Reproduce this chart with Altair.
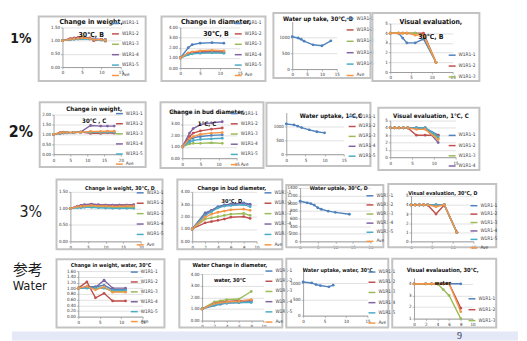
import altair as alt
import pandas as pd

FONT = "Liberation Sans Narrow, DejaVu Sans Condensed, sans-serif"
SERIES = ["W1R1-1", "W1R1-2", "W1R1-3", "W1R1-4", "W1R1-5", "Ave"]
PALETTE = ["#4F81BD", "#C0504D", "#9BBB59", "#8064A2", "#4BACC6", "#F79646"]
TITLE_SCALE = 0.82
ROW_TRIM = 1.5

# ---------------- data ----------------
# Row 1 : 1%
r1_weight_days = [0, 2, 3, 4, 5, 7, 8, 10, 11]
r1_weight = {
    "W1R1-1": [1.00, 1.04, 1.06, 1.07, 1.08, 1.07, 1.05, 1.03, 1.04],
    "W1R1-2": [1.00, 1.08, 1.10, 1.12, 1.13, 1.10, 1.00, 1.05, 0.98],
    "W1R1-3": [1.00, 1.05, 1.07, 1.08, 1.10, 1.08, 1.05, 1.03, 1.02],
    "W1R1-4": [1.00, 1.06, 1.08, 1.09, 1.10, 1.09, 1.07, 1.05, 1.04],
    "W1R1-5": [1.00, 1.03, 1.05, 1.06, 1.07, 1.06, 1.04, 1.02, 1.01],
    "Ave":    [1.00, 1.05, 1.07, 1.08, 1.10, 1.08, 1.04, 1.04, 1.02],
}
r1_diam_days = [0, 2, 3, 5, 8, 11]
r1_diam = {
    "W1R1-1": [1.0, 2.0, 2.3, 2.45, 2.5, 2.45],
    "W1R1-2": [1.0, 1.45, 1.55, 1.6, 1.65, 1.55],
    "W1R1-3": [1.0, 1.35, 1.45, 1.5, 1.55, 1.5],
    "W1R1-4": [1.0, 1.4, 1.5, 1.55, 1.6, 1.6],
    "W1R1-5": [1.0, 1.3, 1.4, 1.45, 1.5, 1.45],
    "Ave":    [1.0, 1.5, 1.6, 1.7, 1.75, 1.7],
}
r1_uptake_days = [0, 2, 3, 4, 7, 10, 13]
r1_uptake = {"W1R1-1": [1020, 980, 940, 880, 765, 735, 890]}
r1_visual_days = [0, 2, 3, 4, 6, 8, 11]
r1_visual = {
    "W1R1-1": [4, 4, 3.5, 3, 3, 3.4, 1],
    "W1R1-2": [4, 4, 4, 4, 4, 4, 1],
    "W1R1-3": [4, 4, 4, 4, 4, 3.8, 1],
    "Ave":    [4, 4, 4, 4, 3.8, 3.8, 1],
}

# Row 2 : 2%
r2_weight_days = [0, 2, 3, 4, 6, 8, 11, 14, 16, 18]
r2_weight = {
    "W1R1-1": [1.00, 1.05, 1.07, 1.08, 1.10, 1.10, 1.12, 1.12, 1.13, 1.14],
    "W1R1-2": [1.00, 1.10, 1.12, 1.10, 1.08, 1.12, 1.05, 1.05, 1.08, 1.06],
    "W1R1-3": [1.00, 1.08, 1.10, 1.10, 1.10, 1.12, 1.10, 1.10, 1.12, 1.12],
    "W1R1-4": [1.00, 1.05, 1.08, 1.10, 1.10, 1.12, 1.45, 1.42, 1.42, 1.42],
    "W1R1-5": [1.00, 1.06, 1.08, 1.08, 1.09, 1.10, 1.10, 1.10, 1.10, 1.10],
    "Ave":    [1.00, 1.07, 1.09, 1.09, 1.10, 1.11, 1.15, 1.15, 1.16, 1.16],
}
r2_diam_days = [0, 2, 3, 5, 8, 11]
r2_diam = {
    "W1R1-1": [1.0, 1.6, 1.8, 1.9, 2.0, 2.05],
    "W1R1-2": [1.0, 1.9, 2.2, 2.4, 2.55, 2.65],
    "W1R1-3": [1.0, 1.25, 1.3, 1.3, 1.35, 1.3],
    "W1R1-4": [1.0, 2.2, 2.6, 2.95, 3.1, 3.2],
    "W1R1-5": [1.0, 1.4, 1.55, 1.65, 1.7, 1.75],
    "Ave":    [1.0, 1.7, 1.9, 2.1, 2.2, 2.25],
}
r2_uptake_days = [0, 2, 3, 4, 6, 8, 10]
r2_uptake = {"W1R1-1": [1090, 1060, 1010, 960, 880, 810, 770]}
r2_visual_days = [0, 1, 2, 3, 4, 6, 8, 11]
r2_visual = {
    "W1R1-1": [4, 4, 4, 4, 4, 4, 4, 3],
    "W1R1-2": [4, 4, 4, 4, 4, 3, 3, 3],
    "W1R1-3": [4, 4, 4, 4, 4, 4, 4, 2.6],
    "W1R1-4": [4, 4, 4, 4, 4, 4, 4, 2],
    "W1R1-5": [4, 4, 4, 4, 4, 4, 4, 2.8],
    "Ave":    [4, 4, 4, 4, 4, 3.8, 3.8, 2.4],
}

# Row 3 : 3%
r3_weight_days = [0, 2, 3, 4, 6, 8, 10, 12, 14, 16, 18]
r3_weight = {
    "W1R1-1": [1.00, 1.04, 1.06, 1.07, 1.09, 1.08, 1.08, 1.07, 1.08, 1.08, 1.08],
    "W1R1-2": [1.00, 1.06, 1.08, 1.10, 1.12, 1.10, 1.10, 1.09, 1.10, 1.10, 1.11],
    "W1R1-3": [1.00, 1.03, 1.04, 1.05, 1.05, 1.04, 1.04, 1.03, 1.03, 1.03, 1.03],
    "W1R1-4": [1.00, 1.07, 1.09, 1.11, 1.13, 1.11, 1.10, 1.10, 1.10, 1.10, 1.10],
    "W1R1-5": [1.00, 1.02, 1.02, 1.03, 1.03, 1.02, 1.01, 1.00, 1.00, 1.00, 1.00],
    "Ave":    [1.00, 1.05, 1.06, 1.07, 1.09, 1.07, 1.07, 1.06, 1.06, 1.07, 1.07],
}
r3_diam_days = [0, 2, 3, 4, 5, 6, 8, 9]
r3_diam = {
    "W1R1-1": [1.0, 2.3, 2.5, 2.8, 2.95, 3.0, 3.1, 3.0],
    "W1R1-2": [1.0, 1.5, 1.6, 1.7, 1.8, 1.95, 2.0, 1.85],
    "W1R1-3": [1.0, 1.8, 1.9, 2.0, 2.1, 2.2, 2.25, 2.1],
    "W1R1-4": [1.0, 2.2, 2.5, 2.75, 2.9, 3.0, 3.05, 2.95],
    "W1R1-5": [1.0, 2.1, 2.4, 2.7, 2.85, 2.9, 2.95, 2.8],
    "Ave":    [1.0, 1.95, 2.2, 2.35, 2.45, 2.55, 2.6, 2.5],
}
r3_uptake_days = [0, 2, 3, 4, 5, 6, 8, 10, 14]
r3_uptake = {"W1R1-1": [1050, 1010, 990, 950, 880, 840, 790, 760, 710]}
r3_visual_days = [0, 1, 2, 3, 4, 6, 8, 11]
r3_visual = {
    "W1R1-1": [4, 4, 4, 4, 4, 4, 4, 1],
    "W1R1-2": [4, 4, 4, 4, 4, 3, 4, 1],
    "W1R1-3": [4, 4, 4, 4, 4, 4, 4, 1],
    "W1R1-4": [4, 4, 4, 4, 4, 4, 4, 1],
    "W1R1-5": [4, 4, 4, 4, 4, 4, 4, 1],
    "Ave":    [4, 4, 4, 4, 4, 3.8, 4, 1],
}

# Row 4 : water (reference)
r4_weight_days = [0, 2, 4, 6, 8, 11]
r4_weight = {
    "W1R1-1": [1.00, 1.05, 1.05, 1.10, 0.95, 0.95],
    "W1R1-2": [1.00, 1.22, 0.66, 0.82, 0.55, 0.55],
    "W1R1-3": [1.00, 1.02, 0.98, 1.02, 0.88, 0.88],
    "W1R1-4": [1.00, 1.02, 1.02, 1.28, 1.00, 1.00],
    "W1R1-5": [1.00, 1.00, 1.00, 1.00, 0.92, 0.92],
    "Ave":    [1.00, 1.06, 0.94, 1.04, 0.86, 0.86],
}
r4_diam_days = [0, 2, 3, 4, 6, 8]
r4_diam = {
    "W1R1-1": [1.0, 1.3, 1.4, 1.5, 1.55, 1.6],
    "W1R1-2": [1.0, 1.5, 1.6, 1.65, 1.7, 1.75],
    "W1R1-3": [1.0, 1.6, 1.7, 1.8, 1.85, 2.5],
    "W1R1-4": [1.0, 1.45, 1.55, 1.6, 1.65, 1.7],
    "W1R1-5": [1.0, 1.35, 1.45, 1.5, 1.55, 1.55],
    "Ave":    [1.0, 1.45, 1.55, 1.6, 1.65, 1.8],
}
r4_uptake_days = [0, 2, 3, 4, 6, 7]
r4_uptake = {"W1R1-1": [1040, 1010, 960, 930, 890, 940]}
r4_visual_days = [0, 2, 3, 4, 5, 6, 8]
r4_visual = {
    "W1R1-1": [4, 4, 4, 4, 4, 4, 4],
    "W1R1-2": [4, 4, 4, 4, 4, 4, 1.9],
    "W1R1-3": [4, 4, 4, 4, 3.5, 3.0, 1.0],
    "Ave":    [4, 4, 4, 4, 4, 4, 1.6],
}

PAGE_NUMBER = "9"

# ---------------- layout (page pixel positions) ----------------
T15 = [0, 5, 10, 15]
T20 = [0, 5, 10, 15, 20]
T10 = [0, 2, 4, 6, 8, 10]
ROWS = [
    dict(top=8, bottom=98, panels=[
        dict(days=r1_weight_days, data=r1_weight, plot=(59, 25, 118, 65), frame=(35, 13, 143, 80),
             title=["Change in weight,", "30℃, B"], tx=88, ty=20, lh=13, fs=8.5, leg=(108, 20, 9.5),
             xmax=15, xt=T15, ydom=[0, 1.5], yt=[0, 0.5, 1, 1.5], yf=".2f"),
        dict(days=r1_diam_days, data=r1_diam, plot=(178, 25, 238, 66), frame=(159, 13, 264, 80),
             title=["Change in diameter,", "30℃, B"], tx=214, ty=20, lh=12, fs=8.5, leg=(232, 20, 9.5),
             xmax=15, xt=T15, ydom=[0, 4], yt=[0, 1, 2, 3, 4], yf=".2f"),
        dict(days=r1_uptake_days, data=r1_uptake, plot=(291, 19, 336, 67), frame=(272, 8, 370, 77),
             title=["Water up take, 30℃, B"], tx=317, ty=17, lh=10, fs=7.5, leg=(345, 15, 10.5),
             names=SERIES, xmax=15, xt=T15, ydom=[0, 1500], yt=[0, 500, 1000], yf="d"),
        dict(days=r1_visual_days, data=r1_visual, plot=(390, 21, 453, 70), frame=(372, 8, 480, 80),
             title=["Visual evaluation,", "30℃,  B"], tx=431, ty=20, lh=14.5, fs=8.5, leg=(448, 52, 10),
             legvals=SERIES[:3], xmax=15, xt=T15, ydom=[0, 5], yt=[0, 1, 2, 3, 4, 5], yf="d"),
    ], labels=[("1%", 17, 37, 14, "bold", FONT)]),
    dict(top=98, bottom=176, panels=[
        dict(days=r2_weight_days, data=r2_weight, plot=(50, 113, 118, 153), frame=(36, 98, 143, 167),
             title=["Change in weight,", "30℃ , C"], tx=91, ty=108, lh=12, fs=7.5, leg=(112, 111, 9.2),
             xmax=20, xt=T20, ydom=[0, 2], yt=[0, 0.5, 1, 1.5, 2], yf=".2f"),
        dict(days=r2_diam_days, data=r2_diam, plot=(180, 111, 235, 157), frame=(158, 98, 262, 168),
             title=["Change in bud diameter,", "1℃, C"], tx=205, ty=111, lh=12, fs=7.5, leg=(228, 111, 9.3),
             xmax=15, xt=T15, ydom=[0, 4], yt=[0, 1, 2, 3, 4], yf=".2f"),
        dict(days=r2_uptake_days, data=r2_uptake, plot=(285, 111, 343, 153), frame=(265, 100, 370, 166),
             title=["Water uptake, 1℃,C"], tx=330, ty=115, lh=10, fs=7.5, leg=(347, 114, 9),
             names=SERIES[:5], xmax=15, xt=T15, ydom=[0, 1500], yt=[0, 500, 1000], yf="d"),
        dict(days=r2_visual_days, data=r2_visual, plot=(390, 119, 456, 156), frame=(378, 105, 480, 170),
             title=["Visual evaluation, 1℃, C"], tx=431, ty=115, lh=10, fs=7.5, leg=(448, 133, 9.3),
             legvals=SERIES[:4], xmax=15, xt=T15, ydom=[0, 5], yt=[0, 1, 2, 3, 4, 5], yf="d"),
    ], labels=[("2%", 17, 131, 16, "bold", FONT)]),
    dict(top=176, bottom=256, panels=[
        dict(days=r3_weight_days, data=r3_weight, plot=(67, 191, 138, 241), frame=(53, 177, 160, 250),
             title=["Change in weight, 30℃, D"], tx=117, ty=188, lh=10, fs=6.5, leg=(133, 191, 9.5),
             xmax=20, xt=T20, ydom=[0, 1.5], yt=[0, 0.5, 1, 1.5], yf=".2f"),
        dict(days=r3_diam_days, data=r3_diam, plot=(190, 191, 255, 241), frame=(175, 177, 281, 250),
             title=["Change in bud diameter,", "30℃,  D"], tx=230, ty=188, lh=14, fs=6.8, leg=(262, 191, 9.5),
             xmax=10, xt=T10, ydom=[0, 4], yt=[0, 1, 2, 3, 4], yf=".2f"),
        dict(days=r3_uptake_days, data=r3_uptake, plot=(299, 187, 370, 241), frame=(285, 183, 383, 248),
             title=["Water uptale, 30℃, D"], tx=338, ty=188, lh=10, fs=6.5, leg=(365, 194, 8.2),
             names=SERIES, xmax=20, xt=T20, ydom=[0, 1400], yt=[0, 200, 400, 600, 800, 1000, 1200, 1400], yf="d"),
        dict(days=r3_visual_days, data=r3_visual, plot=(411, 195, 474, 241), frame=(388, 182, 497, 248),
             title=["Visual evaluation, 30℃, D"], tx=443, ty=193, lh=10, fs=6.5, leg=(470, 204, 7.5),
             xmax=15, xt=T15, ydom=[0, 5], yt=[0, 1, 2, 3, 4, 5], yf="d"),
    ], labels=[("3%", 27, 211, 16, "normal", FONT)]),
    dict(top=256, bottom=332, panels=[
        dict(days=r4_weight_days, data=r4_weight, plot=(75, 271, 140, 317), frame=(53, 258, 162, 330),
             title=["Change in weight, water, 30℃"], tx=108, ty=266, lh=10, fs=6.5, leg=(127, 271, 9),
             xmax=15, xt=T15, ydom=[0, 1.6], yt=[0, 0.2, 0.4, 0.6, 0.8, 1.0, 1.2, 1.4, 1.6], yf=".2f"),
        dict(days=r4_diam_days, data=r4_diam, plot=(200, 274, 262, 321), frame=(177, 258, 281, 332),
             title=["Water Change in diameter,", "water, 30℃"], tx=228, ty=266, lh=15, fs=6.8, leg=(263, 270, 9.3),
             xmax=10, xt=T10, ydom=[0, 4], yt=[0, 1, 2, 3, 4], yf=".2f"),
        dict(days=r4_uptake_days, data=r4_uptake, plot=(302, 267, 367, 316), frame=(285, 257, 388, 332),
             title=["Water uptake, water, 30℃"], tx=337, ty=271, lh=10, fs=6.5, leg=(367, 271, 9.3),
             names=SERIES, xmax=15, xt=T15, ydom=[0, 1500], yt=[0, 500, 1000], yf="d"),
        dict(days=r4_visual_days, data=r4_visual, plot=(414, 278, 473, 319), frame=(392, 256, 497, 330),
             title=["Visual evalauation, 30℃,", "water"], tx=443, ty=270, lh=14, fs=7, leg=(468, 298, 10),
             legvals=SERIES[:3], xmax=10, xt=T10, ydom=[1, 4.5], yt=[1, 2, 3, 4], yf="d"),
    ], labels=[("参考", 24, 270, 15, "normal", "Noto Sans CJK JP"),
               ("Water", 26, 286, 13, "normal", FONT)]),
]

one = pd.DataFrame({"k": [0]})


def spacer(w, h):
    w, h = max(1, w), max(1, h)
    return alt.Chart(one).mark_rect(opacity=0).encode(
        x=alt.value(0), x2=alt.value(w), y=alt.value(0), y2=alt.value(h)).properties(width=w, height=h)


def long_df(days, data):
    recs = []
    for name, vals in data.items():
        for d, v in zip(days, vals):
            recs.append({"day": d, "value": v, "series": name})
    return pd.DataFrame(recs)


def panel(p, top, bottom):
    # the cell spans page x L..R and y top..bottom; the plot sits at y T..B inside it
    L, T, R, B = p["plot"]
    ox, oy = L, top
    H = bottom - top
    names = p.get("names", list(p["data"].keys()))
    rng = [PALETTE[SERIES.index(n)] for n in names]
    lx, ly, sp = p["leg"]
    legend = alt.Legend(orient="none", legendX=lx - ox, legendY=ly - oy - 3.5,
                        values=p.get("legvals", names), title=None,
                        rowPadding=sp - 7, symbolSize=49, symbolType="stroke",
                        symbolStrokeWidth=1.5, labelFontSize=4.8, labelFont=FONT,
                        labelColor="#404040", labelOffset=2, padding=0)
    lines = alt.Chart(long_df(p["days"], p["data"])).mark_line(
        strokeWidth=1.4, point=alt.OverlayMarkDef(filled=True, size=8)).encode(
        x=alt.X("day:Q", title=None,
                scale=alt.Scale(domain=[0, p["xmax"]], nice=False, zero=False),
                axis=alt.Axis(values=p["xt"], grid=False, format="d", offset=B - bottom)),
        y=alt.Y("value:Q", title=None,
                scale=alt.Scale(domain=p["ydom"], nice=False, zero=False,
                                range=[B - oy, T - oy]),
                axis=alt.Axis(values=p["yt"], grid=True, format=p["yf"])),
        color=alt.Color("series:N", scale=alt.Scale(domain=names, range=rng), legend=legend),
    )
    l, t, r, b = p["frame"]
    fy1 = max(t - oy + 1, 2.5)
    fy2 = min(b - oy - 1, H - 2.5)
    frame = alt.Chart(one).mark_rect(fillOpacity=0, stroke="#c3c3c3", strokeWidth=2).encode(
        x=alt.value(l - ox), x2=alt.value(r - ox), y=alt.value(fy1), y2=alt.value(fy2))
    fs = p["fs"] * TITLE_SCALE
    title = alt.Chart(one).mark_text(
        text=p["title"], font=FONT, fontSize=fs, fontWeight="bold", align="center",
        baseline="top", lineHeight=p["lh"], color="#111111").encode(
        x=alt.value(p["tx"] - ox), y=alt.value(p["ty"] - oy - fs * 0.6))
    return alt.layer(frame, lines, title).properties(width=R - L, height=H)


def label_chart(labels, w, h, top):
    layers = [spacer(w, h)]
    for text, px, py, fs, fw, font in labels:
        layers.append(alt.Chart(one).mark_text(
            text=text, font=font, fontSize=fs, fontWeight=fw, align="center",
            baseline="middle", color="#1a1a1a").encode(
            x=alt.value(px - 8), y=alt.value(py - top)))
    return alt.layer(*layers).properties(width=w, height=h)


rows = []
for row in ROWS:
    top = row["top"]
    bottom = row["bottom"] - ROW_TRIM
    H = bottom - top
    cells = [label_chart(row["labels"], row["panels"][0]["plot"][0] - 8, H, top)]
    prevR = None
    for p in row["panels"]:
        L, T, R, B = p["plot"]
        if prevR is not None:
            cells.append(spacer(L - prevR, H))
        cells.append(panel(p, top, bottom))
        prevR = R
    cells.append(spacer(519 - prevR, H))
    rows.append(alt.hconcat(*cells, spacing=0, bounds="flush").resolve_scale(color="independent"))

band_h = 9
band_rect = alt.Chart(one).mark_rect(color="#e4e8f7").encode(
    x=alt.value(0), x2=alt.value(511), y=alt.value(0), y2=alt.value(band_h))
nine = alt.Chart(one).mark_text(text=PAGE_NUMBER, font="Liberation Serif, DejaVu Serif, serif",
                                fontSize=10, color="#333355", baseline="middle").encode(
    x=alt.value(460 - 8), y=alt.value(5))
band = alt.layer(band_rect, nine).properties(width=511, height=band_h)

chart = alt.vconcat(*rows, band, spacing=0).resolve_scale(color="independent").properties(
    padding=0, background="white").configure_view(
    stroke="transparent").configure_axis(
    labelFont=FONT, labelFontSize=4.5, labelColor="#333333", labelPadding=1,
    tickSize=2, tickColor="#8c8c8c", tickWidth=0.6, domainColor="#8c8c8c", domainWidth=0.8,
    gridColor="#cccccc", gridWidth=0.6, labelFlush=False, labelOverlap=False)

chart.save("out.html", embed_options={"renderer": "svg", "actions": False})
